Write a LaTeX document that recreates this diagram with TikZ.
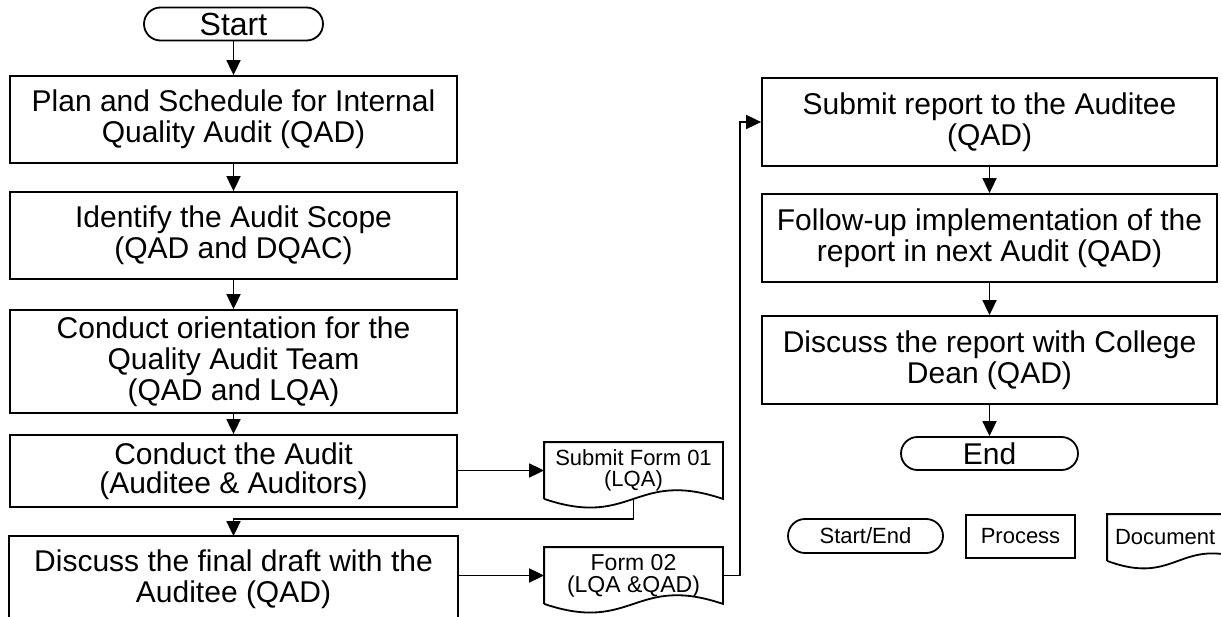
\documentclass[tikz,border=0pt]{standalone}
\usepackage{fontspec}
\setmainfont{Liberation Sans}
\usetikzlibrary{arrows.meta}
\tikzset{
  base/.style={line width=1.8pt, inner sep=0pt, align=center},
  lbox/.style={base, draw, minimum width=447pt, font=\fontsize{30}{31}\selectfont},
  rbox/.style={base, draw, minimum width=455pt, minimum height=88pt, font=\fontsize{30}{31}\selectfont},
  term/.style={base, draw, rounded corners=16.5pt, minimum height=33pt, font=\fontsize{30}{31}\selectfont},
  doctext/.style={base, minimum width=177pt, minimum height=55pt},
  docline/.style={line width=1.8pt},
  conn/.style={line width=1.8pt, -{Triangle[length=15pt,width=14pt]}},
  plain/.style={line width=1.8pt},
  legfont/.style={font=\fontsize{22}{23}\selectfont}
}
\begin{document}
\begin{tikzpicture}[x=1pt,y=-1pt]
\useasboundingbox (0,0) rectangle (1221,617);
\fill[white] (0,0) rectangle (1221,617);
\coordinate (bot) at (0,617);
\coordinate (fb) at (633.5,519);
\coordinate (upx) at (740,300);

% left column
\node[term, minimum width=179pt, font=\fontsize{32}{33}\selectfont] (start) at (233.5,24) {Start};
\node[lbox, minimum height=87pt] (b1) at (233.5,119.5) {Plan and Schedule for Internal\\Quality Audit (QAD)};
\node[lbox, minimum height=87pt] (b2) at (233.5,235.5) {Identify the Audit Scope\\(QAD and DQAC)};
\node[lbox, minimum height=103pt] (b3) at (233.5,361.5) {Conduct orientation for the\\Quality Audit Team\\(QAD and LQA)};
\node[lbox, minimum height=72pt, font=\fontsize{30}{29}\selectfont] (b4) at (233.5,471) {Conduct the Audit\\(Auditee \& Auditors)};
\node[lbox, draw=none, minimum height=84pt] (b5) at (233.5,579) {Discuss the final draft with the\\Auditee (QAD)};
\draw[plain] (b5.west |- bot) -- (b5.north west) -- (b5.north east) -- (b5.east |- bot);

% documents
\node[doctext, font=\fontsize{22}{21}\selectfont] (d1) at (633.5,470.5) {Submit Form 01\\(LQA)};
\draw[docline] (d1.south west) -- (d1.north west) -- (d1.north east) -- (d1.south east)
  .. controls +(-88.5,-30) and +(88.5,30) .. (d1.south west);
\node[doctext, font=\fontsize{23}{22}\selectfont] (d2) at (633.5,575.5) {Form 02\\(LQA \&QAD)};
\draw[docline] (d2.south west) -- (d2.north west) -- (d2.north east) -- (d2.south east)
  .. controls +(-88.5,-30) and +(88.5,30) .. (d2.south west);

% right column
\node[rbox] (r1) at (989.5,122) {Submit report to the Auditee\\(QAD)};
\node[rbox] (r2) at (989.5,238) {Follow-up implementation of the\\report in next Audit (QAD)};
\node[rbox] (r3) at (989.5,360) {Discuss the report with College\\Dean (QAD)};
\node[term, minimum width=177pt] (end) at (989.5,453.5) {End};

% connectors
\draw[conn] (start) -- (b1);
\draw[conn] (b1) -- (b2);
\draw[conn] (b2) -- (b3);
\draw[conn] (b3) -- (b4);
\draw[conn] (b4.east |- d1.west) -- (d1.west);
\draw[conn] (d1.south) -- (fb) -| (b5.north);
\draw[conn] (b5.east |- d2.west) -- (d2.west);
\draw[conn] (d2.east) -- (d2.east -| upx) -- (upx |- r1.west) -- (r1.west);
\draw[conn] (r1) -- (r2);
\draw[conn] (r2) -- (r3);
\draw[conn] (r3) -- (end);

% legend
\node[term, legfont, minimum width=155pt, minimum height=34pt, rounded corners=17pt] (ls) at (865.5,536) {Start/End};
\node[base, draw, legfont, minimum width=109pt, minimum height=43pt] (lp) at (1020.5,536.5) {Process};
\node[base, legfont, text width=126pt, inner xsep=7pt, align=left, minimum height=45pt] (ld) at (1178,537.5) {Document};
\begin{scope}
\clip (0,0) rectangle (1221,617);
\draw[docline] (ld.south west) -- (ld.north west) -- (ld.north east) -- (ld.south east)
  .. controls +(-70,-26) and +(70,26) .. (ld.south west);
\end{scope}
\end{tikzpicture}
\end{document}
